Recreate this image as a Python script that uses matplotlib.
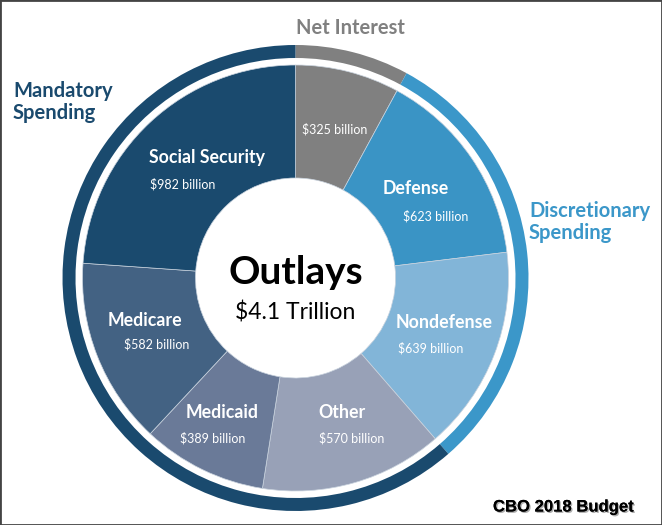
import matplotlib
matplotlib.use("Agg")
import matplotlib.pyplot as plt
import matplotlib.patheffects as pe

# Outlays by category, billions of dollars (clockwise from 12 o'clock)
categories = ["Net Interest", "Defense", "Nondefense", "Other",
              "Medicaid", "Medicare", "Social Security"]
outlays = [325, 623, 639, 570, 389, 582, 982]
slice_colors = ["#808080", "#3a94c5", "#82b5d8", "#98a1b7",
                "#6a7a98", "#436283", "#1a4a6e"]

# Outer ring groups
groups = ["Net Interest", "Discretionary\nSpending", "Mandatory\nSpending"]
group_members = [["Net Interest"], ["Defense", "Nondefense"],
                 ["Other", "Medicaid", "Medicare", "Social Security"]]
group_colors = ["#808080", "#3b97c9", "#1a4a6e"]
group_totals = [sum(outlays[categories.index(c)] for c in m) for m in group_members]

W, H = 662, 525
fig = plt.figure(figsize=(W / 100, H / 100), dpi=100)
ax = fig.add_axes([0, 0, 1, 1])

cx, cy = 295.5, H - 278
r_pie, r_hole = 213, 100
r_ring, ring_w = 233, 13

ax.pie(outlays, colors=slice_colors, startangle=90, counterclock=False,
       radius=r_pie, center=(cx, cy), frame=True,
       wedgeprops=dict(width=r_pie - r_hole, edgecolor="#c9d3de", linewidth=0.5))
ax.pie(group_totals, colors=group_colors, startangle=90, counterclock=False,
       radius=r_ring, center=(cx, cy), frame=True,
       wedgeprops=dict(width=ring_w, edgecolor="none"))
ax.set_xlim(0, W)
ax.set_ylim(0, H)
ax.set_aspect("equal")
ax.axis("off")

font = "Lato"


def txt(x, y, s, **kw):
    ax.text(x, H - y, s, ha="center", va="center", family=font, **kw)


# slice labels: (name position, value position)
label_pos = {
    "Net Interest": (None, (335, 129)),
    "Defense": ((416, 189), (436, 216)),
    "Nondefense": ((444, 322), (431, 348)),
    "Other": ((342, 413), (352, 438)),
    "Medicaid": ((222, 412), (213, 438)),
    "Medicare": ((145, 320), (157, 344)),
    "Social Security": ((207, 158), (183, 184)),
}
for cat, val in zip(categories, outlays):
    name_xy, val_xy = label_pos[cat]
    if name_xy is not None:
        txt(*name_xy, cat, color="white", fontsize=12.8, fontweight="bold")
    txt(*val_xy, f"${val} billion", color="white", fontsize=9)

# group labels
txt(350, 28, groups[0], color="#808080", fontsize=14.5, fontweight="bold")
ax.text(13, H - 102, groups[2], ha="left", va="center", family=font,
        color=group_colors[2], fontsize=14.5, fontweight="bold", linespacing=1.15)
ax.text(529, H - 222, groups[1], ha="left", va="center", family=font,
        color=group_colors[1], fontsize=14.5, fontweight="bold", linespacing=1.15)

# center
txt(cx, 273, "Outlays", color="black", fontsize=28, fontweight="bold")
txt(cx, 313, "$4.1 Trillion", color="black", fontsize=16.5)

# source tag
ax.text(563, H - 507, "CBO 2018 Budget", ha="center", va="center",
        family="Liberation Sans", fontsize=12, fontweight="bold", color="black",
        path_effects=[pe.withSimplePatchShadow(offset=(1, -1), shadow_rgbFace="#999999", alpha=0.8),
                      pe.Normal()])

# frame
fig.patches.append(plt.Rectangle((0, 0), 1, 1, transform=fig.transFigure,
                                 fill=False, edgecolor="#444444", linewidth=2))

fig.savefig("out.png", dpi=100)
